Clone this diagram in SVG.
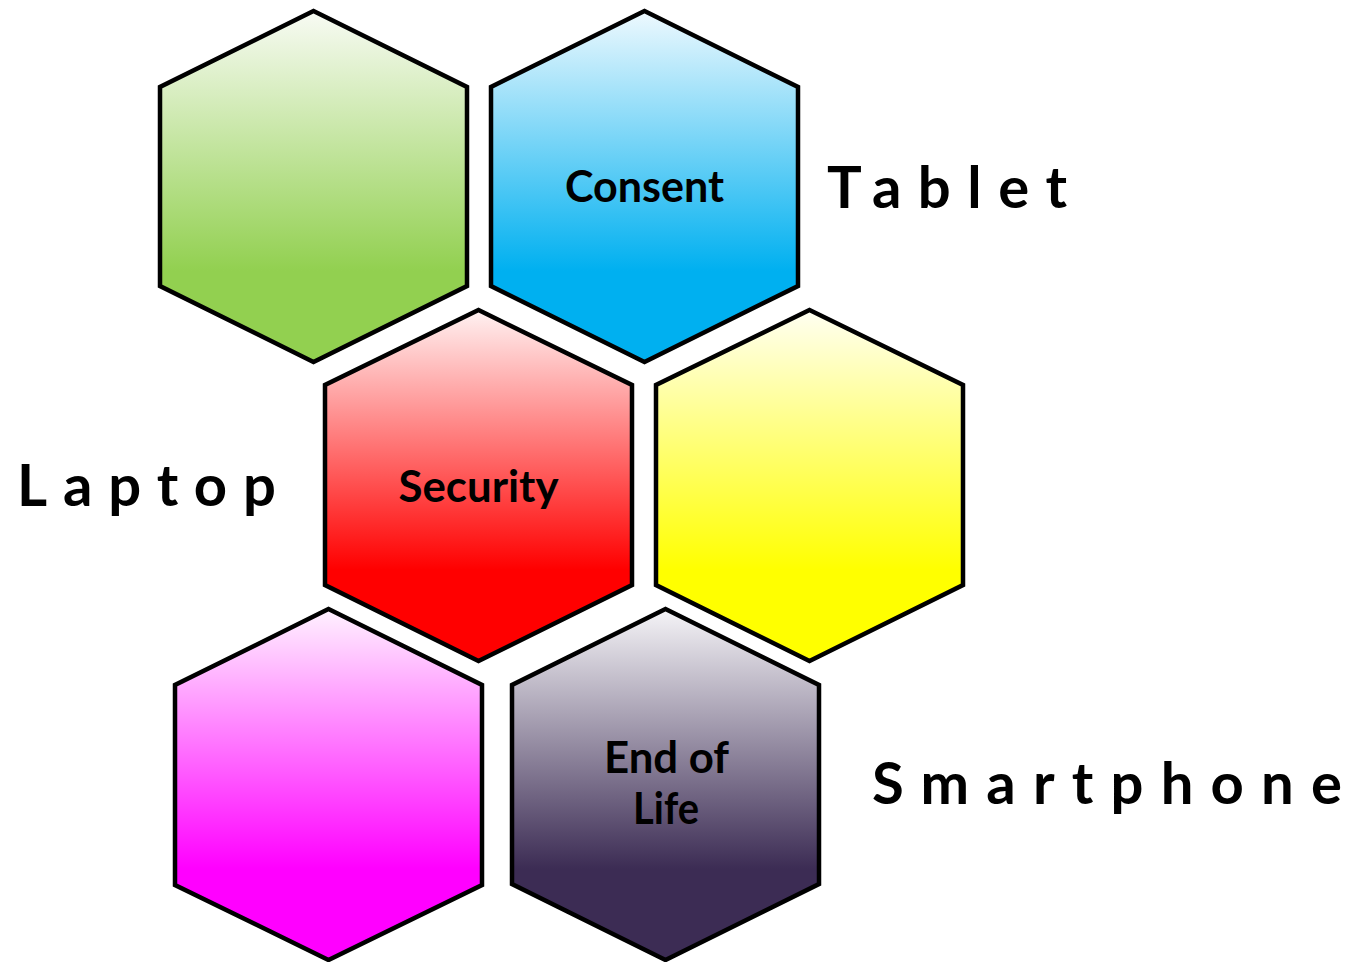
<svg xmlns="http://www.w3.org/2000/svg" width="1359" height="962" viewBox="0 0 1359 962">
<style>
.hex{stroke:#000;stroke-width:4.5;stroke-linejoin:miter}
.in{font-family:Lato,"Open Sans","Liberation Sans",sans-serif;font-weight:700;font-size:44px;fill:#000;text-anchor:middle}
.out{font-family:Lato,"Open Sans","Liberation Sans",sans-serif;font-weight:700;font-size:58px;fill:#000}
</style>
<defs>
<linearGradient id="gGreen" x1="0" y1="0" x2="0" y2="1"><stop offset="0" stop-color="#F8FBF4"/><stop offset="0.74" stop-color="#92D050"/></linearGradient>
<linearGradient id="gBlue" x1="0" y1="0" x2="0" y2="1"><stop offset="0" stop-color="#EEF9FE"/><stop offset="0.74" stop-color="#00B0F0"/></linearGradient>
<linearGradient id="gRed" x1="0" y1="0" x2="0" y2="1"><stop offset="0" stop-color="#FFF2F2"/><stop offset="0.74" stop-color="#FF0000"/></linearGradient>
<linearGradient id="gYellow" x1="0" y1="0" x2="0" y2="1"><stop offset="0" stop-color="#FFFFF2"/><stop offset="0.74" stop-color="#FFFF00"/></linearGradient>
<linearGradient id="gMag" x1="0" y1="0" x2="0" y2="1"><stop offset="0" stop-color="#FFF2FF"/><stop offset="0.74" stop-color="#FF00FF"/></linearGradient>
<linearGradient id="gDark" x1="0" y1="0" x2="0" y2="1"><stop offset="0" stop-color="#F5F4F7"/><stop offset="0.74" stop-color="#3C2C54"/></linearGradient>
</defs>
<g id="hex-green"><polygon class="hex" fill="url(#gGreen)" points="313.5,11 467,87 467,286 313.5,362 160,286 160,87"/></g>
<g id="hex-consent"><polygon class="hex" fill="url(#gBlue)" points="644.5,11 798,87 798,286 644.5,362 491,286 491,87"/>
<text class="in" x="644.5" y="202" textLength="159" lengthAdjust="spacingAndGlyphs">Consent</text></g>
<g id="hex-security"><polygon class="hex" fill="url(#gRed)" points="478.5,310 632,385 632,585 478.5,661 325,585 325,385"/>
<text class="in" x="478.5" y="502" textLength="160" lengthAdjust="spacingAndGlyphs">Security</text></g>
<g id="hex-yellow"><polygon class="hex" fill="url(#gYellow)" points="809.5,310 963,385 963,585 809.5,661 656,585 656,385"/></g>
<g id="hex-magenta"><polygon class="hex" fill="url(#gMag)" points="328.5,609 482,685 482,885 328.5,960 175,885 175,685"/></g>
<g id="hex-endoflife"><polygon class="hex" fill="url(#gDark)" points="665.5,609 819,685 819,884 665.5,960 512,884 512,685"/>
<text class="in" x="666.5" y="773" textLength="125" lengthAdjust="spacingAndGlyphs">End of</text>
<text class="in" x="666" y="824" textLength="66" lengthAdjust="spacingAndGlyphs">Life</text></g>
<g id="label-tablet"><text class="out" x="827" y="208" textLength="240" lengthAdjust="spacing">Tablet</text></g>
<g id="label-laptop"><text class="out" x="17" y="506" textLength="259" lengthAdjust="spacing">Laptop</text></g>
<g id="label-smartphone"><text class="out" x="872" y="804" textLength="470" lengthAdjust="spacing">Smartphone</text></g>
</svg>
